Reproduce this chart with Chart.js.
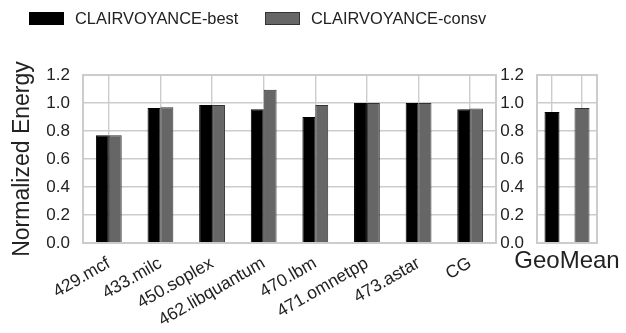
<!DOCTYPE html>
<html>
<head>
<meta charset="utf-8">
<script src="https://cdn.jsdelivr.net/npm/chart.js@4"></script>
<style>
  body { margin: 0; background: #fff; font-family: "Liberation Sans", Arial, sans-serif; }
  #lienzo { position: relative; width: 626px; height: 333px; overflow: hidden; }
  #c1 { position: absolute; left: 0; top: 0; }
  #c2 { position: absolute; left: 496px; top: 0; }
  .ley { position: absolute; top: 10px; font-size: 16.4px; color: #222; line-height: 16px; white-space: nowrap; }
  .ley i { position: absolute; top: 2px; width: 33px; height: 11px; }
</style>
</head>
<body>
<div id="lienzo">
  <canvas id="c1" width="497" height="333"></canvas>
  <canvas id="c2" width="130" height="333"></canvas>
  <div class="ley" style="left:29px"><i style="left:0;background:#000;border:1px solid #000;"></i><span style="margin-left:46px">CLAIRVOYANCE-best</span></div>
  <div class="ley" style="left:265px"><i style="left:0;background:#666;border:1px solid #333;"></i><span style="margin-left:46px">CLAIRVOYANCE-consv</span></div>
</div>
<script>
// ===================== Datos =====================
var benchmarks = ["429.mcf", "433.milc", "450.soplex", "462.libquantum", "470.lbm", "471.omnetpp", "473.astar", "CG"];
var energiaBest = [0.77, 0.965, 0.985, 0.955, 0.90, 1.0, 1.0, 0.955];
var energiaConsv = [0.77, 0.97, 0.985, 1.095, 0.985, 1.0, 1.0, 0.96];
var geoMeanBest = 0.935;
var geoMeanConsv = 0.965;
var ticksY = [0.0, 0.2, 0.4, 0.6, 0.8, 1.0, 1.2];

var fuente = "'Liberation Sans', Arial, sans-serif";
var colorTexto = "#222";
var colorGrid = "#cccccc";

// dibuja el marco completo del area del grafico
var marcoArea = {
  id: "marcoArea",
  afterDraw(chart) {
    const a = chart.chartArea;
    const ctx = chart.ctx;
    ctx.save();
    ctx.strokeStyle = colorGrid;
    ctx.lineWidth = 2;
    ctx.strokeRect(a.left, a.top, a.right - a.left, a.bottom - a.top);
    ctx.restore();
  }
};

function ejeY(ancho, titulo) {
  return {
    min: 0, max: 1.2,
    afterFit: (s) => { s.width = ancho; },
    afterBuildTicks: (s) => { s.ticks = ticksY.map(v => ({ value: v })); },
    ticks: {
      padding: 13,
      color: colorTexto,
      font: { family: fuente, size: 17 },
      callback: (v) => Number(v).toFixed(1)
    },
    grid: { color: colorGrid, lineWidth: 1.4, drawTicks: false },
    border: { display: false },
    title: titulo ? {
      display: true, text: titulo, color: colorTexto,
      font: { family: fuente, size: 23 }, padding: { top: 9, bottom: 0 }
    } : { display: false }
  };
}

// ===================== Grafico principal =====================
new Chart(document.getElementById("c1"), {
  type: "bar",
  data: {
    labels: benchmarks,
    datasets: [
      { label: "CLAIRVOYANCE-best", data: energiaBest, backgroundColor: "#000", borderColor: "#000", borderWidth: 1, barPercentage: 1, categoryPercentage: 0.5 },
      { label: "CLAIRVOYANCE-consv", data: energiaConsv, backgroundColor: "#666", borderColor: "#333", borderWidth: 1, barPercentage: 1, categoryPercentage: 0.5 }
    ]
  },
  options: {
    responsive: false,
    animation: false,
    layout: { padding: { top: 75, right: 1, left: 0, bottom: 0 } },
    scales: {
      x: {
        afterFit: (s) => { s.height = 90; },
        ticks: {
          color: colorTexto, font: { family: fuente, size: 17.5 },
          minRotation: 30, maxRotation: 30, padding: 10, autoSkip: false
        },
        grid: { color: colorGrid, lineWidth: 1.4, offset: false, drawTicks: false },
        border: { display: false }
      },
      y: ejeY(83, "Normalized Energy")
    },
    plugins: { legend: { display: false }, tooltip: { enabled: false } }
  },
  plugins: [marcoArea]
});

// ===================== Panel GeoMean =====================
new Chart(document.getElementById("c2"), {
  type: "bar",
  data: {
    labels: ["GeoMean", ""],
    datasets: [
      { label: "CLAIRVOYANCE-best", data: [geoMeanBest, null], backgroundColor: "#000", borderColor: "#000", borderWidth: 1, barPercentage: 0.5, categoryPercentage: 1, grouped: false },
      { label: "CLAIRVOYANCE-consv", data: [null, geoMeanConsv], backgroundColor: "#666", borderColor: "#333", borderWidth: 1, barPercentage: 0.5, categoryPercentage: 1, grouped: false }
    ]
  },
  options: {
    responsive: false,
    animation: false,
    layout: { padding: { top: 75, right: 29, left: 0, bottom: 0 } },
    scales: {
      x: {
        afterFit: (s) => { s.height = 90; s.paddingLeft = 0; s.paddingRight = 0; },
        ticks: {
          color: colorTexto, font: { family: fuente, size: 24 },
          minRotation: 0, maxRotation: 0, autoSkip: false, padding: 4, labelOffset: 15
        },
        grid: { color: colorGrid, lineWidth: 1.4, offset: false, drawTicks: false },
        border: { display: false }
      },
      y: ejeY(41, null)
    },
    plugins: { legend: { display: false }, tooltip: { enabled: false } }
  },
  plugins: [marcoArea]
});
</script>
</body>
</html>
